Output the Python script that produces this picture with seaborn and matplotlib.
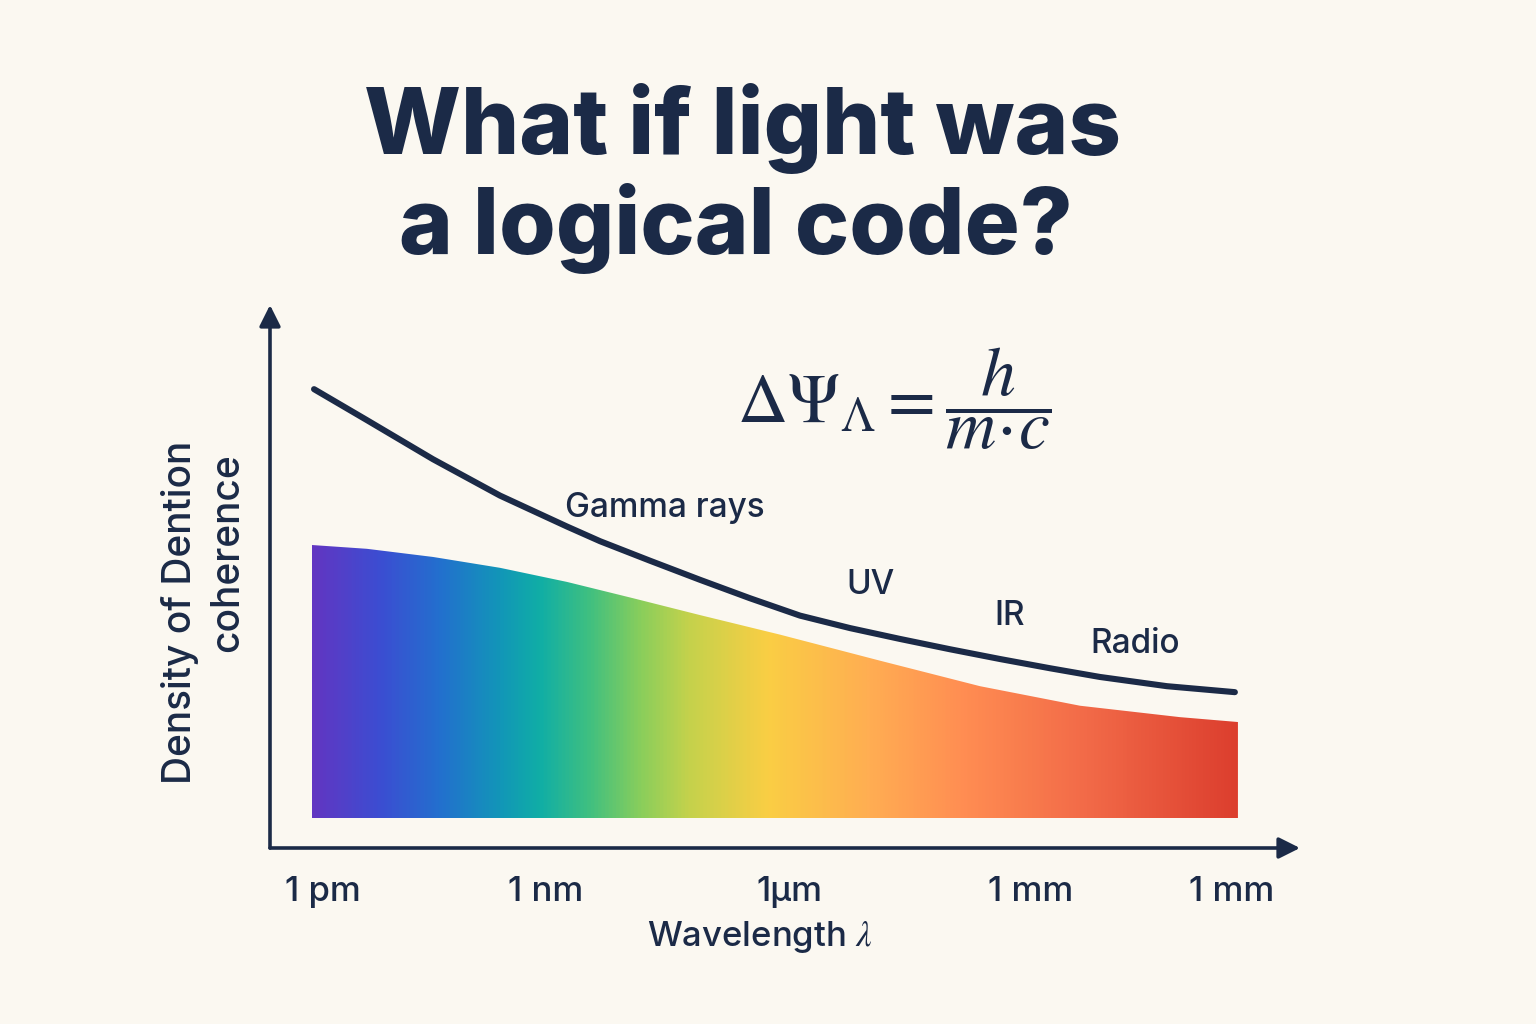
import numpy as np
import pandas as pd
import matplotlib
matplotlib.use("Agg")
import matplotlib.pyplot as plt
from matplotlib.colors import LinearSegmentedColormap
import seaborn as sns

# curve (x: position along log-wavelength, y: coherence)
curve_x = [-0.038, 0.186, 0.466, 0.750, 1.034, 1.174, 1.386, 1.597, 1.809, 2.021,
           2.233, 2.445, 2.657, 2.869, 3.081, 3.292, 3.576, 3.864]
curve_y = [8.45, 7.88, 7.16, 6.49, 5.92, 5.65, 5.29, 4.94, 4.60, 4.28,
           4.05, 3.85, 3.66, 3.48, 3.31, 3.15, 2.98, 2.87]

# spectrum band top edge
band_x = [-0.047, 0.186, 0.466, 0.750, 1.034, 1.314, 1.597, 1.936, 2.360, 2.784,
          3.208, 3.631, 3.877]
band_top = [5.58, 5.51, 5.36, 5.16, 4.90, 4.60, 4.29, 3.93, 3.45, 2.98,
            2.62, 2.41, 2.32]
band_floor = 0.55

tick_pos = [0, 0.945, 1.975, 3.0, 3.85]
tick_labels = ["1 pm", "1 nm", "1µm", "1 mm", "1 mm"]

region_names = ["Gamma rays", "UV", "IR", "Radio"]
region_x = [1.45, 2.32, 2.91, 3.44]
region_y = [6.27, 4.84, 4.27, 3.76]

spectrum_stops = [(0.0, "#6236C2"), (0.073, "#3B4ED2"), (0.137, "#2370CE"),
                  (0.202, "#1296B8"), (0.245, "#10AEA6"), (0.299, "#40C080"),
                  (0.353, "#88CE5C"), (0.406, "#C4D24C"), (0.492, "#FACE44"),
                  (0.600, "#FFAE52"), (0.708, "#FF8C52"), (0.838, "#F26A48"),
                  (1.0, "#DC3E2E")]

navy = "#1B2A47"
bg = "#FBF8F1"

sns.set_theme(style="white")
plt.rcParams["font.family"] = ["Inter", "DejaVu Sans"]
plt.rcParams["mathtext.fontset"] = "stix"

fig = plt.figure(figsize=(15.36, 10.24), dpi=100)
fig.patch.set_facecolor(bg)
ax = fig.add_axes([270 / 1536, 1 - 848 / 1024, 1030 / 1536, 543 / 1024])
ax.set_facecolor(bg)
ax.set_xlim(-0.2246, 4.14)
ax.set_ylim(0, 10)

# gradient band clipped to the area under the band curve
cmap = LinearSegmentedColormap.from_list("spec", spectrum_stops)
grad = np.linspace(0, 1, 512).reshape(1, -1)
poly = ax.fill_between(band_x, band_floor, band_top, facecolor="none", edgecolor="none")
img = ax.imshow(grad, extent=[band_x[0], band_x[-1], band_floor, max(band_top)],
                aspect="auto", cmap=cmap, origin="lower", zorder=1)
img.set_clip_path(poly.get_paths()[0], transform=ax.transData)

df = pd.DataFrame({"x": curve_x, "y": curve_y})
sns.lineplot(data=df, x="x", y="y", ax=ax, color=navy, lw=4.4, sort=False,
             solid_capstyle="round", solid_joinstyle="round", zorder=3)

for name, x, y in zip(region_names, region_x, region_y):
    ax.text(x, y, name, fontsize=24, fontweight="medium", color=navy,
            ha="center", va="center")

ax.text(2.42, 8.27, r"$\Delta\Psi_{\Lambda} = \dfrac{h}{m\!\cdot\! c}$", fontsize=50,
        color=navy, ha="center", va="center")

# axes as arrows
for s in ax.spines.values():
    s.set_visible(False)
arrow = dict(arrowstyle="-|>", color=navy, lw=2.6, mutation_scale=32,
             shrinkA=0, shrinkB=0)
ax.annotate("", xy=(1, 0), xytext=(0, 0), xycoords="axes fraction", arrowprops=arrow)
ax.annotate("", xy=(0, 1), xytext=(0, 0), xycoords="axes fraction", arrowprops=arrow)

ax.set_xticks(tick_pos)
ax.set_xticklabels(tick_labels, fontsize=25, fontweight="medium", color=navy)
ax.set_yticks([])
ax.tick_params(axis="x", length=0, pad=20)
ax.set_xlabel(r"Wavelength $\lambda$", fontsize=25, fontweight="medium", color=navy)
ax.set_ylabel("")
ax.xaxis.set_label_coords((760 - 270) / 1030, -(919 - 848) / 543)

fig.text(180 / 1536, 1 - 612 / 1024, "Density of Dention", rotation=90, fontsize=28,
         fontweight="medium", color=navy, ha="center", va="center")
fig.text(228 / 1536, 1 - 553 / 1024, "coherence", rotation=90, fontsize=28,
         fontweight="medium", color=navy, ha="center", va="center")

fig.text(742 / 1536, 1 - 128 / 1024, "What if light was", fontsize=66, fontweight="heavy",
         color=navy, ha="center", va="center")
fig.text(736 / 1536, 1 - 228 / 1024, "a logical code?", fontsize=66, fontweight="heavy",
         color=navy, ha="center", va="center")

fig.savefig("out.png", dpi=100, facecolor=bg)
